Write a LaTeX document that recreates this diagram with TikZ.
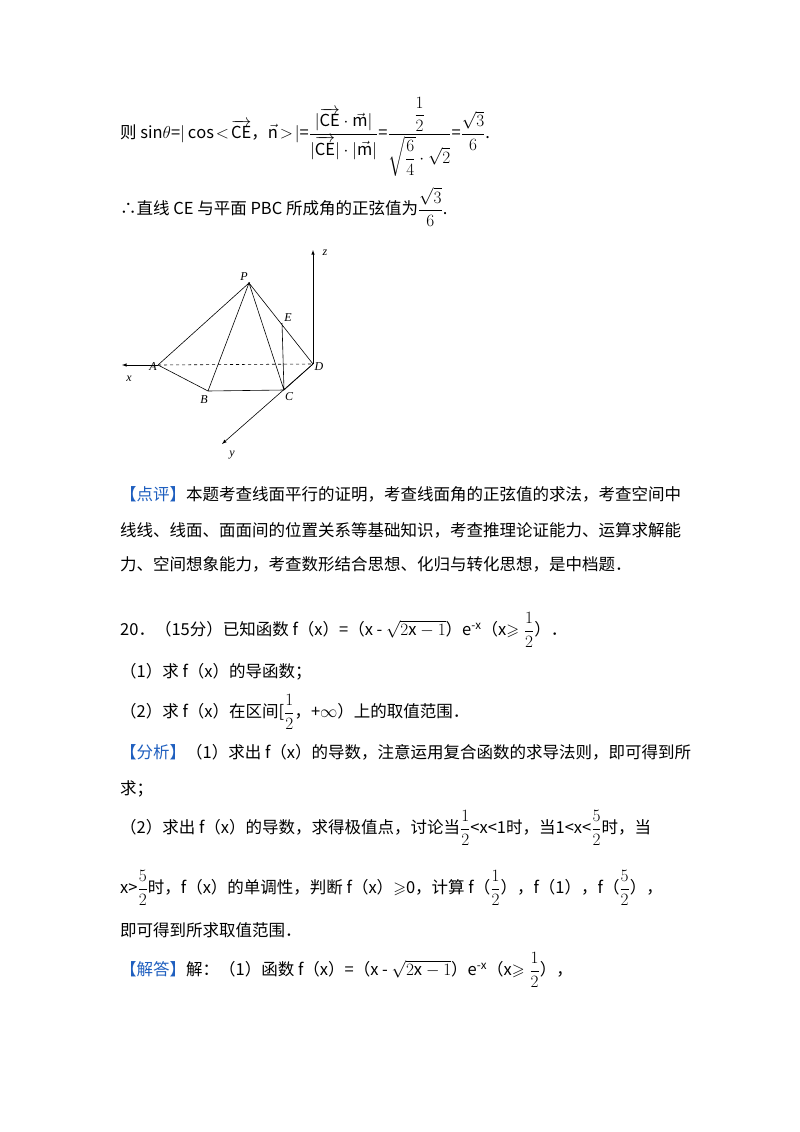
\documentclass[tikz,border=0pt]{standalone}
\usepackage{amsmath,amssymb}
\usepackage{fontspec}
\setmainfont{Noto Sans CJK SC}
\newfontfamily\serifit{Liberation Serif}
\begin{document}
\begin{tikzpicture}[x=1pt,y=-1pt,
  tl/.style={anchor=west,inner sep=0pt,font=\fontsize{16.5}{18}\selectfont},
  lab/.style={font=\serifit\itshape\fontsize{12}{12}\selectfont,inner sep=1pt},
  ed/.style={line width=0.6pt}]
\useasboundingbox[fill=white] (0,0) rectangle (800,1132);
\def\bl{\textcolor[HTML]{1F5FBF}}
\node[tl] (l1) at (120,137) {则 sin$\theta$=$|\cos\!<\!\overrightarrow{\mathrm{CE}}$，$\vec{\mathrm{n}}\!>\!|$=$\dfrac{\rule{0pt}{14pt}|\overrightarrow{\mathrm{CE}}\cdot\vec{\mathrm{m}}|}{|\overrightarrow{\mathrm{CE}}|\cdot|\vec{\mathrm{m}}|}$=$\dfrac{\dfrac{1}{2}}{\sqrt{\dfrac{6}{4}}\cdot\sqrt{2}}$=$\dfrac{\sqrt3}{6}$.};
\node[tl] (l2) at (120,207) {∴直线 CE 与平面 PBC 所成角的正弦值为$\dfrac{\sqrt3}{6}$.};
% figure
\coordinate (P) at (249,283); \coordinate (E) at (282,323);
\coordinate (D) at (313,364); \coordinate (A) at (158,365);
\coordinate (B) at (208,391); \coordinate (C) at (284,390);
\coordinate (Z) at (313,250); \coordinate (X) at (122,365); \coordinate (Y) at (222,444);
\draw[ed] (P)--(A) (P)--(B) (P)--(C) (P)--(D) (A)--(B) (B)--(C) (C)--(D) (E)--(C);
\draw[ed,dashed] (A)--(D);
\draw[ed,-latex] (D)--(Z); \draw[ed,-latex] (A)--(X); \draw[ed,-latex] (D)--(Y);
\fill (P) circle (1pt);
\node[lab] (nP) at (244,277) {P}; \node[lab] (nE) at (288,318) {E};
\node[lab] (nD) at (319,367) {D}; \node[lab] (nA) at (153,367) {A};
\node[lab] (nB) at (204,400) {B}; \node[lab] (nC) at (289,397) {C};
\node[lab] (nz) at (325,253) {z}; \node[lab] (nx) at (129,379) {x};
\node[lab] (ny) at (232,455) {y};
% text
\node[tl] (l3) at (120,494) {\bl{【点评】}本题考查线面平行的证明，考查线面角的正弦值的求法，考查空间中};
\node[tl] (l4) at (120,530) {线线、线面、面面间的位置关系等基础知识，考查推理论证能力、运算求解能};
\node[tl] (l5) at (120,564) {力、空间想象能力，考查数形结合思想、化归与转化思想，是中档题．};
\node[tl] (l6) at (120,630) {20．（15分）已知函数 f（x）=（x - $\sqrt{2\mathrm{x}-1}$）e$^{\text{-}\mathrm{x}}$（x$\geqslant\dfrac12$）．};
\node[tl] (l7) at (120,672) {（1）求 f（x）的导函数；};
\node[tl] (l8) at (120,712) {（2）求 f（x）在区间[$\dfrac12$，+$\infty$）上的取值范围．};
\node[tl] (l9) at (120,752) {\bl{【分析】}（1）求出 f（x）的导数，注意运用复合函数的求导法则，即可得到所};
\node[tl] (l10) at (120,789) {求；};
\node[tl] (l11) at (120,828) {（2）求出 f（x）的导数，求得极值点，讨论当$\dfrac12$<x<1时，当1<x<$\dfrac52$时，当};
\node[tl] (l12) at (120,888) {x>$\dfrac52$时，f（x）的单调性，判断 f（x）$\geqslant$0，计算 f（$\dfrac12$），f（1），f（$\dfrac52$），};
\node[tl] (l13) at (120,930) {即可得到所求取值范围．};
\node[tl] (l14) at (120,970) {\bl{【解答】}解：（1）函数 f（x）=（x - $\sqrt{2\mathrm{x}-1}$）e$^{\text{-}\mathrm{x}}$（x$\geqslant\dfrac12$），};
\end{tikzpicture}
\end{document}
